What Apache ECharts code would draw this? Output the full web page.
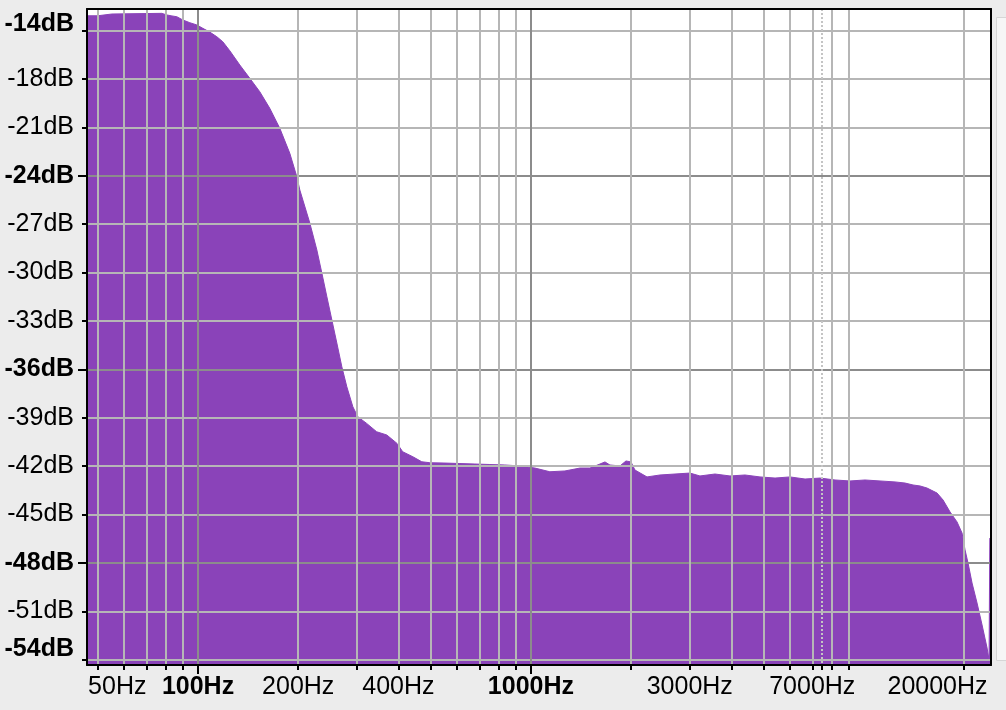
<!DOCTYPE html>
<html><head><meta charset="utf-8">
<script src="https://cdn.jsdelivr.net/npm/echarts@6/dist/echarts.min.js"></script>
<style>html,body{margin:0;padding:0;background:#ececec;}#c{width:1006px;height:710px;}</style>
</head><body><div id="c"></div>
<script>
// Spectrum (frequency in Hz, level in dB)
const freqHz = [46.7, 50.0, 50.3, 55.1, 55.2, 77.8, 80.6, 83.5, 86.4, 90.0, 94.5, 99.2, 103.4, 108.5, 113.9, 118.7, 124.6, 133.5, 143.1, 153.3, 164.3, 176.1, 188.7, 198.1, 202.2, 216.7, 227.5, 235.5, 243.8, 252.4, 261.2, 270.4, 279.9, 291.8, 302, 321, 344, 369, 396, 412, 442, 470, 497, 552, 612, 679, 753, 835, 927, 1028, 1140, 1265, 1404, 1504, 1612, 1669, 1727, 1851, 1930, 1956, 1998, 2053, 2232, 2441, 2709, 3004, 3219, 3572, 3963, 4396, 4877, 5411, 6000, 6659, 7387, 8195, 9089, 10083, 11185, 12410, 13301, 14055, 14753, 15484, 16596, 17298, 18156, 19055, 19728, 20141, 20563, 21141, 21884, 22656, 23456, 23783, 23880, 23900, 24000];
const levelDb = [-14.08, -14.08, -13.97, -13.97, -13.85, -13.93, -14.03, -14.09, -14.14, -14.34, -14.51, -14.65, -14.86, -15.09, -15.38, -15.69, -16.25, -17.13, -17.96, -18.79, -19.82, -21.06, -22.61, -24.06, -24.88, -26.93, -28.60, -30.03, -31.50, -32.94, -34.37, -35.84, -37.08, -38.32, -38.94, -39.35, -39.87, -40.07, -40.59, -41.11, -41.42, -41.73, -41.79, -41.81, -41.84, -41.87, -41.90, -41.93, -41.99, -42.12, -42.35, -42.30, -42.12, -42.12, -41.87, -41.74, -41.93, -41.99, -41.68, -41.56, -41.74, -42.24, -42.67, -42.55, -42.49, -42.43, -42.61, -42.49, -42.61, -42.55, -42.67, -42.74, -42.67, -42.80, -42.74, -42.86, -42.92, -42.86, -42.92, -42.98, -43.05, -43.17, -43.23, -43.36, -43.67, -44.10, -44.84, -45.46, -46.15, -47.20, -48.01, -49.25, -50.49, -51.85, -53.28, -54.02, -54.10, -46.46, -46.46];

// Axis ticks and labels
const xMinorTicks = [50, 60, 70, 80, 90, 200, 300, 400, 500, 600, 700, 800, 900, 2000, 3000, 4000, 5000, 6000, 7000, 8000, 9000, 20000];
const xMajorTicks = [100, 1000];
const xDottedTicks = [7500];
const xLabelValues = [50, 200, 400, 3000, 7000, 20000];
const xLabelText = ['50Hz', '200Hz', '400Hz', '3000Hz', '7000Hz', '20000Hz'];
const xMajorLabelText = ['100Hz', '1000Hz'];
const yMinorTicks = [-54, -51, -45, -42, -39, -33, -30, -27, -21, -18, -15];
const yMajorTicks = [-48, -36, -24];
const yLabelValues = [-54, -51, -48, -45, -42, -39, -36, -33, -30, -27, -24, -21, -18, -15];
const yLabelText = ['-54dB', '-51dB', '-48dB', '-45dB', '-42dB', '-39dB', '-36dB', '-33dB', '-30dB', '-27dB', '-24dB', '-21dB', '-18dB', '-14dB'];
const yBoldValues = [-54, -48, -36, -24, -15];

const X_MIN = 46.4, X_MAX = 24100, Y_MIN = -54.33, Y_MAX = -13.66;
const FONT = 'Liberation Sans';
const PURPLE = '#8a43b9';
const GRID_MINOR = '#b6b6b6';
const GRID_MAJOR = '#8c8c8c';

const baseText = { fontFamily: FONT, fontSize: 25, color: '#000' };
const rich = {
  n: Object.assign({}, baseText),
  b: Object.assign({}, baseText, { fontWeight: 'bold' }),
  top: Object.assign({}, baseText, { fontWeight: 'bold', padding: [0, 0, 14, 0] }),
  bot: Object.assign({}, baseText, { fontWeight: 'bold', padding: [0, 0, 22, 0] }),
  l: Object.assign({}, baseText, { padding: [0, 0, 0, 39] }),
  r: Object.assign({}, baseText, { padding: [0, 53, 0, 0] })
};

const data = freqHz.map((f, i) => [f, levelDb[i]]);

const logAxisBase = {
  type: 'log', logBase: 10, min: X_MIN, max: X_MAX, gridIndex: 0, position: 'bottom', z: 10,
  axisLine: { show: false }, minorTick: { show: false }, minorSplitLine: { show: false }
};
const valAxisBase = {
  type: 'value', min: Y_MIN, max: Y_MAX, gridIndex: 0, position: 'left', z: 10,
  axisLine: { show: false }
};

const chart = echarts.init(document.getElementById('c'), null, { renderer: 'canvas' });
chart.setOption({
  backgroundColor: '#ececec',
  animation: false,
  grid: { left: 87, right: 15, top: 9, bottom: 45, show: true, backgroundColor: '#ffffff', borderWidth: 0 },
  xAxis: [
    Object.assign({}, logAxisBase, {
      axisLine: { show: true, lineStyle: { color: '#000', width: 2 } },
      axisTick: { show: true, customValues: xMinorTicks, length: 5, lineStyle: { color: '#000', width: 2 } },
      axisLabel: {
        customValues: xLabelValues, margin: 10, fontFamily: FONT, fontSize: 25, color: '#000', rich: rich,
        formatter: function (v) {
          const i = xLabelValues.findIndex(x => Math.abs(x - v) < 1e-6 * x);
          const t = i >= 0 ? xLabelText[i] : '';
          if (i === 0) return '{l|' + t + '}';
          if (i === xLabelValues.length - 1) return '{r|' + t + '}';
          return '{n|' + t + '}';
        }
      },
      splitLine: { show: true, lineStyle: { color: GRID_MINOR, width: 2 } }
    }),
    Object.assign({}, logAxisBase, {
      axisTick: { show: true, customValues: xMajorTicks, length: 9, lineStyle: { color: '#000', width: 2 } },
      axisLabel: {
        customValues: xMajorTicks, margin: 10, fontFamily: FONT, fontSize: 25, fontWeight: 'bold', color: '#000', rich: rich,
        formatter: function (v) {
          const i = xMajorTicks.findIndex(x => Math.abs(x - v) < 1e-6 * x);
          return '{b|' + (i >= 0 ? xMajorLabelText[i] : '') + '}';
        }
      },
      splitLine: { show: true, lineStyle: { color: GRID_MAJOR, width: 2 } }
    }),
    Object.assign({}, logAxisBase, {
      axisTick: { show: true, customValues: xDottedTicks, length: 5, lineStyle: { color: '#000', width: 2 } },
      axisLabel: { show: false },
      splitLine: { show: true, lineStyle: { color: '#c4c4c4', width: 2, type: 'dotted' } }
    }),
    Object.assign({}, logAxisBase, {
      position: 'top',
      axisLine: { show: true, lineStyle: { color: '#000', width: 2 } },
      axisTick: { show: false }, axisLabel: { show: false }, splitLine: { show: false }
    })
  ],
  yAxis: [
    Object.assign({}, valAxisBase, {
      axisLine: { show: true, lineStyle: { color: '#000', width: 2 } },
      axisTick: { show: true, customValues: yMinorTicks, length: 5, lineStyle: { color: '#000', width: 2 } },
      axisLabel: {
        customValues: yLabelValues, margin: 13, fontFamily: FONT, fontSize: 25, color: '#000', rich: rich,
        formatter: function (v) {
          const r = Math.round(v);
          const i = yLabelValues.indexOf(r);
          const t = i >= 0 ? yLabelText[i] : '';
          if (r === -15) return '{top|' + t + '}';
          if (r === -54) return '{bot|' + t + '}';
          return (yBoldValues.indexOf(r) >= 0 ? '{b|' : '{n|') + t + '}';
        }
      },
      splitLine: { show: true, lineStyle: { color: GRID_MINOR, width: 2 } }
    }),
    Object.assign({}, valAxisBase, {
      axisTick: { show: true, customValues: yMajorTicks, length: 9, lineStyle: { color: '#000', width: 2 } },
      axisLabel: { show: false },
      splitLine: { show: true, lineStyle: { color: GRID_MAJOR, width: 2 } }
    }),
    Object.assign({}, valAxisBase, {
      position: 'right',
      axisLine: { show: true, lineStyle: { color: '#000', width: 2 } },
      axisTick: { show: false }, axisLabel: { show: false }, splitLine: { show: false }
    })
  ],
  graphic: [{
    type: 'rect', left: 996, top: 17, shape: { width: 12, height: 643 },
    style: { fill: '#f6f6f6', stroke: '#d6d6d6', lineWidth: 1 }, silent: true
  }],
  series: [{
    type: 'line', xAxisIndex: 0, yAxisIndex: 0, data: data,
    showSymbol: false, symbol: 'none', z: 2, clip: true,
    lineStyle: { color: PURPLE, width: 1 },
    areaStyle: { color: PURPLE, opacity: 1, origin: 'start' }
  }]
});
</script></body></html>
